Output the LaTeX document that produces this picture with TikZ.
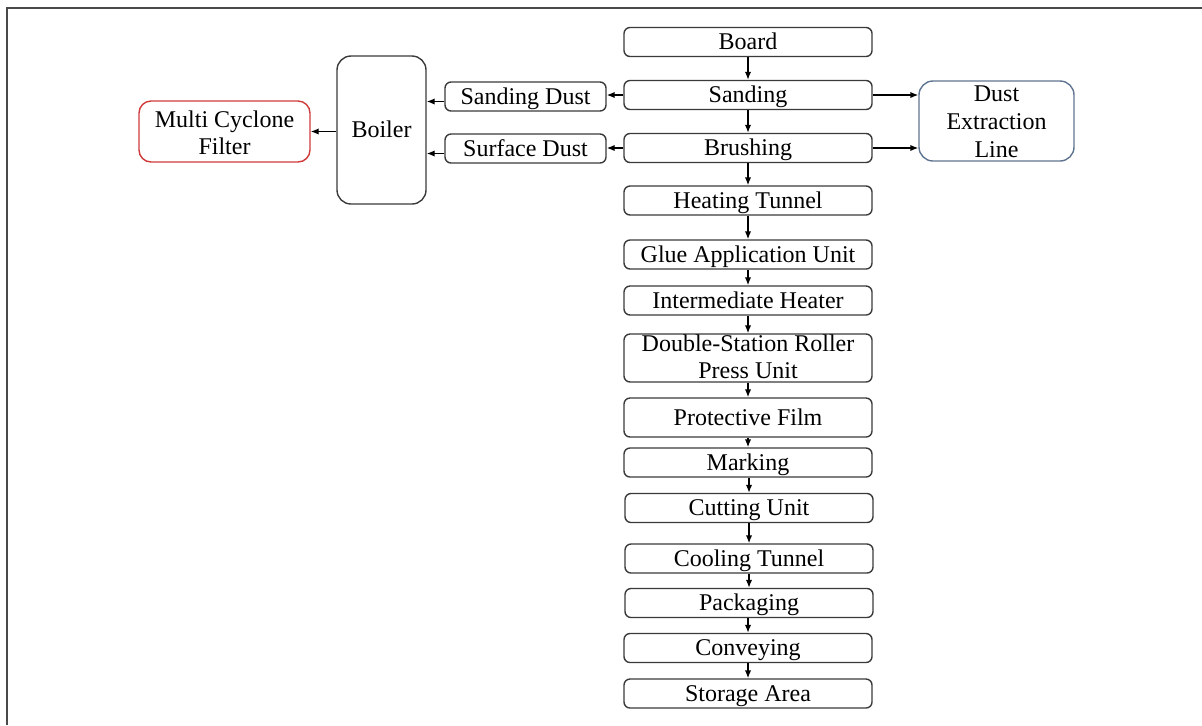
\documentclass[tikz,border=0pt]{standalone}
\usepackage{fontspec}
\setmainfont{Liberation Serif}
\usetikzlibrary{arrows.meta}
\definecolor{boxline}{HTML}{3A3A3A}
\definecolor{redline}{HTML}{D03A3A}
\definecolor{blueline}{HTML}{5F7490}
\definecolor{frameline}{HTML}{4A4A4A}
\tikzset{
  box/.style={draw=boxline, line width=0.7pt, rounded corners=3pt, inner sep=0pt, align=center,
    font=\fontsize{12}{13.5}\selectfont, text=black},
  onebox/.style={box, text height=9.2pt, text depth=1.6pt},
  mainbox/.style={onebox, minimum width=124pt, minimum height=14.5pt},
  arr/.style={draw=black, line width=0.7pt, -{Latex[length=4pt,width=3.2pt]}},
}
\begin{document}
\begin{tikzpicture}[x=0.5pt,y=-0.5pt]
\useasboundingbox (0,0) rectangle (1202,725);
% frame
\coordinate (fl) at (7,725);
\coordinate (fc) at (7,8);
\coordinate (fr) at (1202,8);
\draw[frameline, line width=1pt] (fl) -- (fc) -- (fr);
% main column
\node[mainbox] (board) at (748,42) {Board};
\node[mainbox] (sanding) at (748,95) {Sanding};
\node[mainbox] (brushing) at (748,148) {Brushing};
\node[mainbox] (heating) at (748,200.5) {Heating Tunnel};
\node[mainbox] (glue) at (748,254.5) {Glue Application Unit};
\node[mainbox] (inter) at (748,300.5) {Intermediate Heater};
\node[box, minimum width=124pt, minimum height=24pt, text height=21.5pt, text depth=1.5pt] (press) at (748,358) {Double-Station Roller\\Press Unit};
\node[mainbox, minimum height=19.5pt] (film) at (748,417.5) {Protective Film};
\node[mainbox] (marking) at (748,462.5) {Marking};
\node[mainbox] (cutting) at (749,508) {Cutting Unit};
\node[mainbox] (cooling) at (749,558.5) {Cooling Tunnel};
\node[mainbox] (pack) at (749,603) {Packaging};
\node[mainbox] (convey) at (748,648) {Conveying};
\node[mainbox] (storage) at (748,693.5) {Storage Area};
% left side
\node[onebox, minimum width=80.5pt, minimum height=14.5pt] (sdust) at (525.5,96.5) {Sanding Dust};
\node[onebox, minimum width=80.5pt, minimum height=14.5pt] (fdust) at (525.5,148.5) {Surface Dust};
\node[onebox, rounded corners=7pt, minimum width=44.5pt, minimum height=74pt] (boiler) at (381.5,130) {Boiler};
\node[box, draw=redline, rounded corners=6pt, minimum width=85.5pt, minimum height=30.5pt, text height=24pt, text depth=1.5pt] (mcf) at (224.5,131.5) {Multi Cyclone\\Filter};
% right side
\node[box, draw=blueline, rounded corners=7pt, minimum width=77.5pt, minimum height=40pt, font=\fontsize{12}{14}\selectfont, text height=37.5pt, text depth=1.5pt] (del) at (996.5,121) {Dust\\Extraction\\Line};
% vertical flow
\draw[arr] (board) -- (sanding);
\draw[arr] (sanding) -- (brushing);
\draw[arr] (brushing) -- (heating);
\draw[arr] (heating) -- (glue);
\draw[arr] (glue) -- (inter);
\draw[arr] (inter) -- (press);
\draw[arr] (press) -- (film);
\draw[arr] (film) -- (marking);
\draw[arr] (marking.south -| cutting) -- (cutting);
\draw[arr] (cutting) -- (cooling);
\draw[arr] (cooling) -- (pack);
\draw[arr] (pack.south -| convey) -- (convey);
\draw[arr] (convey) -- (storage);
% branches
\draw[arr] (sanding.west) -- (sanding.west -| sdust.east);
\draw[arr] (brushing.west) -- (brushing.west -| fdust.east);
\draw[arr] ([yshift=-2.5pt]sdust.west) -- ([yshift=-2.5pt]sdust.west -| boiler.east);
\draw[arr] ([yshift=-2.5pt]fdust.west) -- ([yshift=-2.5pt]fdust.west -| boiler.east);
\draw[arr] (boiler.west |- mcf.east) -- (mcf.east);
\draw[arr] (sanding.east) -- (sanding.east -| del.west);
\draw[arr] (brushing.east) -- (brushing.east -| del.west);
\end{tikzpicture}
\end{document}
